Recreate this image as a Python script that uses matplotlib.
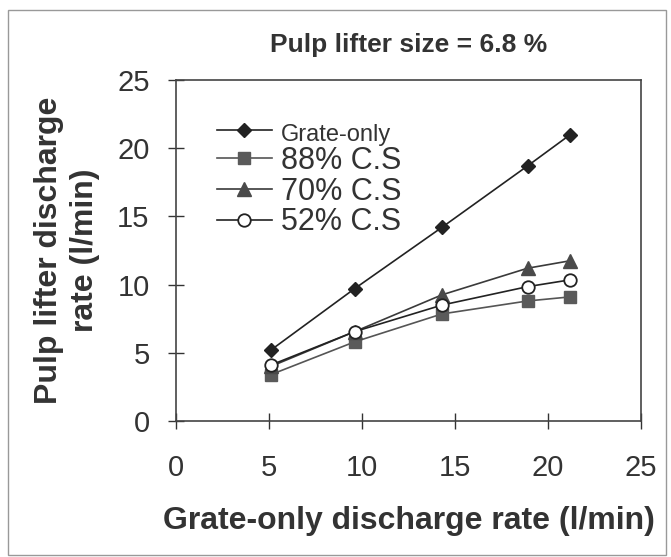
import matplotlib
matplotlib.use('Agg')
import matplotlib.pyplot as plt
from matplotlib.patches import Rectangle

plt.rcParams['font.family'] = ['Liberation Sans', 'DejaVu Sans']

# data
grate_x = [5.1, 9.6, 14.3, 18.9, 21.2]
grate_only = [5.2, 9.7, 14.2, 18.7, 21.0]
cs88 = [3.4, 5.8, 7.85, 8.8, 9.1]
cs70 = [4.0, 6.55, 9.25, 11.2, 11.75]
cs52 = [4.1, 6.55, 8.5, 9.85, 10.35]

fig = plt.figure(figsize=(6.71, 5.57), dpi=100)
ax = fig.add_axes([176/671, 1-421/557, (641-176)/671, (421-80)/557])

ax.plot(grate_x, grate_only, color='#222222', lw=1.2, marker='D', ms=7,
        mfc='#222222', mec='#222222', label='Grate-only')
ax.plot(grate_x, cs88, color='#555555', lw=1.2, marker='s', ms=9,
        mfc='#5a5a5a', mec='#5a5a5a', label='88% C.S')
ax.plot(grate_x, cs70, color='#3a3a3a', lw=1.2, marker='^', ms=10,
        mfc='#4a4a4a', mec='#4a4a4a', label='70% C.S')
ax.plot(grate_x, cs52, color='#222222', lw=1.2, marker='o', ms=9,
        mfc='white', mec='#222222', mew=1.3, label='52% C.S')

ax.set_xlim(0, 25)
ax.set_ylim(0, 25)
ax.set_xticks([0, 5, 10, 15, 20, 25])
ax.set_yticks([0, 5, 10, 15, 20, 25])
ax.tick_params(direction='inout', length=12, width=1, labelsize=21,
               colors='#333333')
ax.tick_params(axis='x', pad=18)
ax.tick_params(axis='y', pad=13)
for s in ax.spines.values():
    s.set_color('#444444')
    s.set_linewidth(1.2)

ax.set_xlabel('Grate-only discharge rate (l/min)', fontsize=23,
              fontweight='bold', color='#333333', labelpad=17)
ax.set_ylabel('Pulp lifter discharge\nrate (l/min)', fontsize=23,
              fontweight='bold', color='#333333', labelpad=12,
              linespacing=1.3)
ax.set_title('Pulp lifter size = 6.8 %', fontsize=19, fontweight='bold',
             color='#333333', pad=20)

leg = ax.legend(loc='upper left', bbox_to_anchor=(0.055, 0.93), frameon=False,
                handlelength=1.8, handletextpad=0.3, labelspacing=0.02,
                borderpad=0, fontsize=22)
texts = leg.get_texts()
texts[0].set_fontsize(17)
for t in texts:
    t.set_color('#333333')

# border around the whole figure
fig.patches.append(Rectangle((8/671, 2/557), 658/671, 545/557,
                             transform=fig.transFigure, fill=False,
                             edgecolor='#999999', lw=1))

fig.savefig('out.png', dpi=100)
